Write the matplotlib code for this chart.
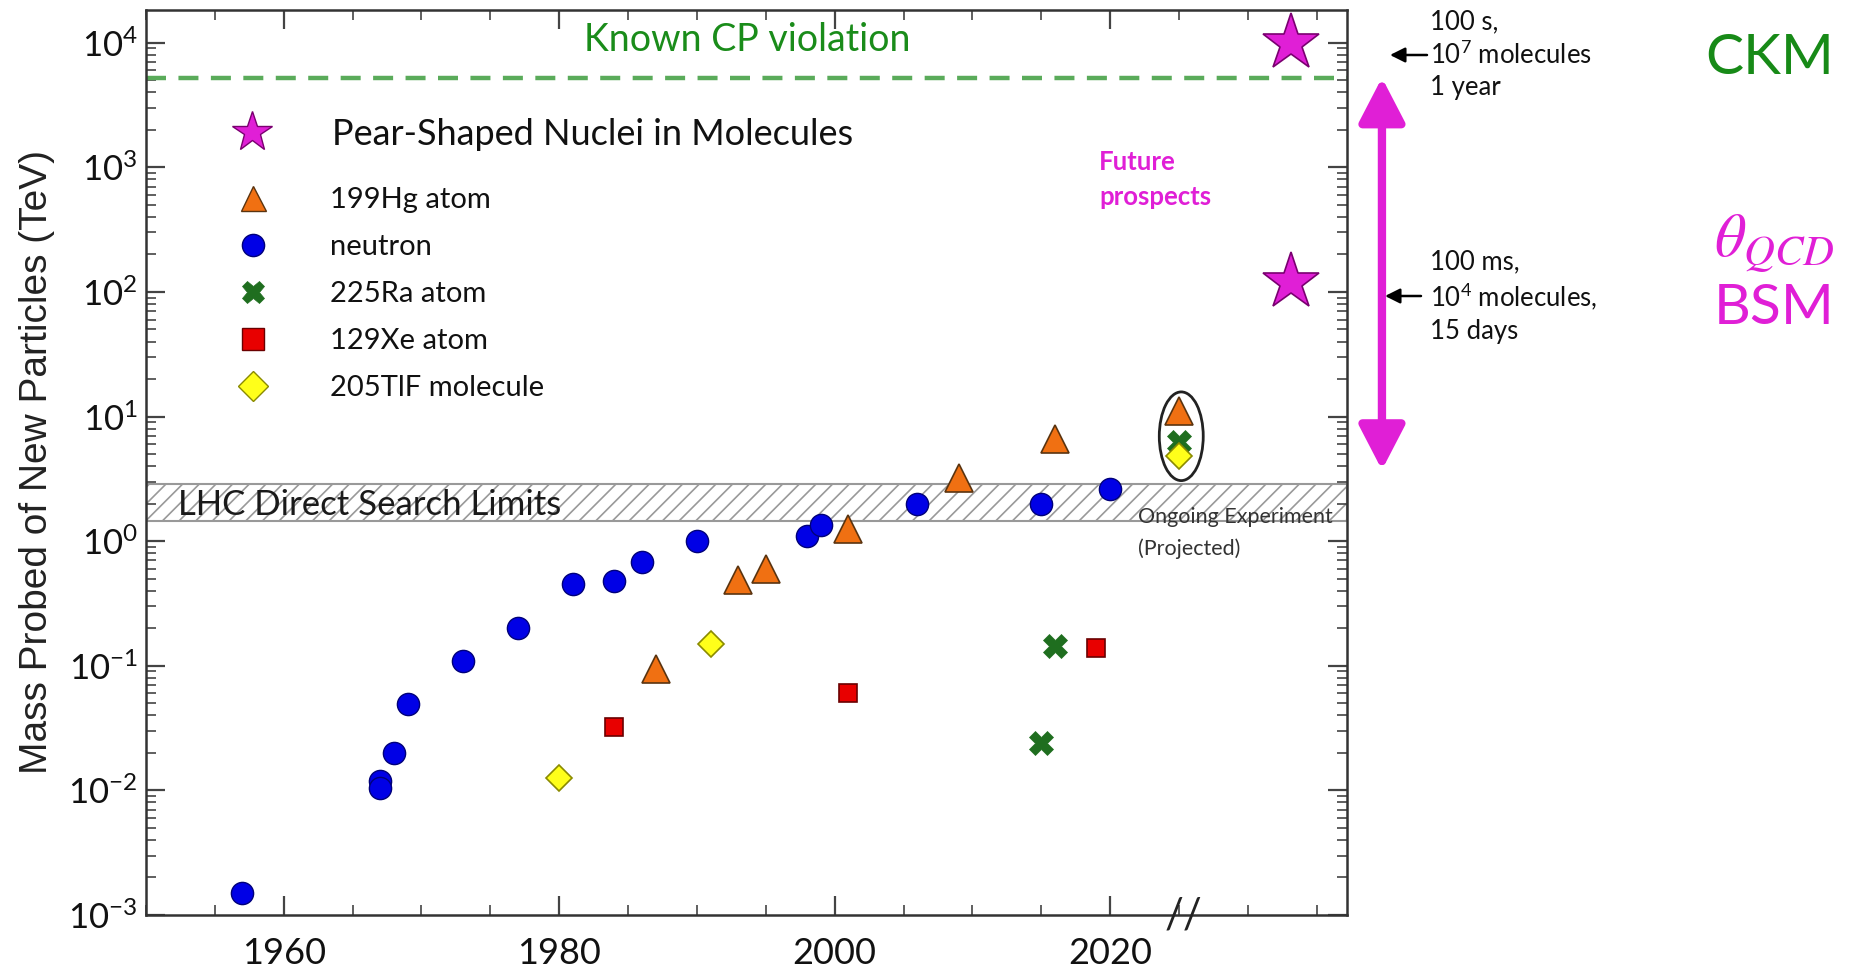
import matplotlib
matplotlib.use('Agg')
import matplotlib.pyplot as plt
from matplotlib.lines import Line2D
from matplotlib.patches import Ellipse, FancyArrowPatch
from matplotlib.ticker import MultipleLocator, LogLocator, FuncFormatter, NullFormatter

plt.rcParams['font.family'] = ['Lato', 'DejaVu Sans']
plt.rcParams['mathtext.default'] = 'regular'
plt.rcParams['hatch.color'] = '#a8a8a8'
plt.rcParams['hatch.linewidth'] = 1.2

# data (year, mass in TeV)
neutron_year = [1957, 1967, 1967, 1968, 1969, 1973, 1977, 1981, 1984, 1986, 1990, 1998, 1999, 2006, 2015, 2020]
neutron_mass = [0.0015, 0.012, 0.0105, 0.02, 0.049, 0.11, 0.2, 0.45, 0.48, 0.68, 1.0, 1.1, 1.36, 2.0, 2.0, 2.6]
hg_year = [1987, 1993, 1995, 2001, 2009, 2016, 2025]
hg_mass = [0.095, 0.49, 0.6, 1.25, 3.2, 6.6, 11.0]
ra_year = [2015, 2016, 2025]
ra_mass = [0.024, 0.145, 6.3]
xe_year = [1984, 2001, 2019]
xe_mass = [0.032, 0.06, 0.14]
tlf_year = [1980, 1991, 2025]
tlf_mass = [0.0125, 0.15, 4.8]
star_year = [2033.1, 2033.1]
star_mass = [1.0e4, 120]

known_cp = 5200
lhc_band = (1.45, 2.9)
break_year = 2025.3

legend_labels = ['199Hg atom', 'neutron', '225Ra atom', '129Xe atom', '205TlF molecule']

blue = '#0000e6'
orange = '#f07012'
green = '#1f6e1f'
red = '#e80000'
yellow = '#ffff1a'
magenta = '#e01fd6'

fig = plt.figure(figsize=(18.68, 9.77), dpi=100)
ax = fig.add_axes([146/1868, 62/977, 1201/1868, 905/977])
ax.set_yscale('log')
ax.set_xlim(1950, 2037.2)
ax.set_ylim(1e-3, 1.83e4)

# reference lines / bands
ax.axhline(known_cp, color='#5aab5a', lw=3.2, ls=(0, (4.5, 2.8)), zorder=2)
ax.axhspan(*lhc_band, facecolor='white', edgecolor='#999999', hatch='//', lw=1.5, zorder=1)

# data
ax.plot(neutron_year, neutron_mass, 'o', ms=16, mfc=blue, mec='#00007a', mew=1, ls='none', zorder=5)
ax.plot(hg_year, hg_mass, '^', ms=20, mfc=orange, mec='#5a3410', mew=1.2, ls='none', zorder=6)
ax.plot(ra_year, ra_mass, 'X', ms=17, mfc=green, mec=green, mew=0.5, ls='none', zorder=5)
ax.plot(xe_year, xe_mass, 's', ms=13.5, mfc=red, mec='#6a0000', mew=1.2, ls='none', zorder=5)
ax.plot(tlf_year, tlf_mass, 'D', ms=13.5, mfc=yellow, mec='#8a8a00', mew=1.2, ls='none', zorder=6)
ax.plot(star_year, star_mass, '*', ms=43, mfc=magenta, mec='#7a0070', mew=1.2, ls='none', zorder=6)

ax.add_patch(Ellipse((0.862, 0.529), 0.0366, 0.098, transform=ax.transAxes,
                     fill=False, ec='#222222', lw=2, zorder=7))

# axes styling
ax.xaxis.set_major_locator(MultipleLocator(20))
ax.xaxis.set_minor_locator(MultipleLocator(5))
ax.xaxis.set_major_formatter(FuncFormatter(lambda v, p: f'{int(round(v))}'))
ax.yaxis.set_major_locator(LogLocator(base=10, numticks=20))
ax.yaxis.set_minor_locator(LogLocator(base=10, subs=range(2, 10), numticks=20))
ax.yaxis.set_minor_formatter(NullFormatter())
ax.tick_params(which='both', direction='in', top=True, right=True, color='#444444')
ax.tick_params(which='major', length=14, width=1.6)
ax.tick_params(which='minor', length=7, width=1.2)
ax.tick_params(axis='x', which='major', labelsize=26, pad=16, labelcolor='#111111')
ax.tick_params(axis='y', which='major', labelsize=25, pad=6, labelcolor='#111111')
for s in ax.spines.values():
    s.set_color('#333333')
    s.set_linewidth(1.8)

ax.set_ylabel('Mass Probed of New Particles (TeV)', fontsize=28, family=['Liberation Sans', 'DejaVu Sans'], color='#222222')
ax.yaxis.set_label_coords(-0.076, 0.5)

# axis break
ax.text(break_year, 0, '//', transform=ax.get_xaxis_transform(), ha='center', va='center',
        fontsize=30, color='#222222', clip_on=False, zorder=8)

# legends
star_handle = [Line2D([], [], marker='*', ls='none', ms=30, mfc=magenta, mec='#7a0070', mew=1)]
leg1 = ax.legend(star_handle, ['Pear-Shaped Nuclei in Molecules'], loc='upper left',
                 bbox_to_anchor=(0.065, 0.881), frameon=False, fontsize=26, borderpad=0,
                 borderaxespad=0, handlelength=1.56, handletextpad=1.43, labelcolor='#111111')
ax.add_artist(leg1)
handles = [
    Line2D([], [], marker='^', ls='none', ms=18, mfc=orange, mec='#5a3410', mew=1),
    Line2D([], [], marker='o', ls='none', ms=16, mfc=blue, mec='#00007a', mew=1),
    Line2D([], [], marker='X', ls='none', ms=16, mfc=green, mec=green, mew=0.5),
    Line2D([], [], marker='s', ls='none', ms=16, mfc=red, mec='#6a0000', mew=1),
    Line2D([], [], marker='D', ls='none', ms=15, mfc=yellow, mec='#8a8a00', mew=1),
]
ax.legend(handles, legend_labels, loc='upper left', bbox_to_anchor=(0.065, 0.804), frameon=False,
          fontsize=21, borderpad=0, borderaxespad=0, handlelength=2.0, handletextpad=1.64,
          labelspacing=0.72, labelcolor='#111111')

# in-axes texts
ax.text(0.501, 0.967, 'Known CP violation', transform=ax.transAxes, ha='center', va='center',
        fontsize=27, color='#1a8c1a')
ax.text(1952.3, 1.95, 'LHC Direct Search Limits', ha='left', va='center', fontsize=25, color='#1a1a1a', zorder=3)
ax.text(0.7935, 0.813, 'Future\nprospects', transform=ax.transAxes, ha='left', va='center',
        fontsize=18.5, fontweight='bold', color=magenta, linespacing=1.55)
ax.text(0.826, 0.422, 'Ongoing Experiment\n(Projected)', transform=ax.transAxes, ha='left', va='center',
        fontsize=15.5, color='#333333', linespacing=1.7, zorder=8)

# right-hand annotations
fig.add_artist(FancyArrowPatch((0.7398, 0.9205), (0.7398, 0.519), transform=fig.transFigure,
                               arrowstyle='<|-|>,head_length=27,head_width=14', mutation_scale=1,
                               lw=6, color=magenta, shrinkA=0, shrinkB=0))
fig.add_artist(FancyArrowPatch((1427/1868, 1 - 55/977), (1390/1868, 1 - 55/977), transform=fig.transFigure,
                               arrowstyle='-|>,head_length=9,head_width=4.5', mutation_scale=1,
                               lw=1.8, color='black', shrinkA=0, shrinkB=0))
fig.add_artist(FancyArrowPatch((1421/1868, 1 - 296/977), (1385/1868, 1 - 296/977), transform=fig.transFigure,
                               arrowstyle='-|>,head_length=9,head_width=4.5', mutation_scale=1,
                               lw=1.8, color='black', shrinkA=0, shrinkB=0))
fig.text(1430/1868, 1 - 55/977, '100 s,\n10$^7$ molecules\n1 year', ha='left', va='center',
         fontsize=18.5, color='#111111', linespacing=1.3)
fig.text(1430/1868, 1 - 297/977, '100 ms,\n10$^4$ molecules,\n15 days', ha='left', va='center',
         fontsize=18.5, color='#111111', linespacing=1.3)
fig.text(0.982, 1 - 59/977, 'CKM', ha='right', va='center', fontsize=41, color='#178a17')
fig.text(0.982, 1 - 243/977, r'$\mathit{\theta}_{\mathit{QCD}}$', ha='right', va='center', fontsize=44,
         color=magenta, math_fontfamily='stix')
fig.text(0.982, 1 - 308/977, 'BSM', ha='right', va='center', fontsize=41, color=magenta)

fig.savefig('out.png', dpi=100)
